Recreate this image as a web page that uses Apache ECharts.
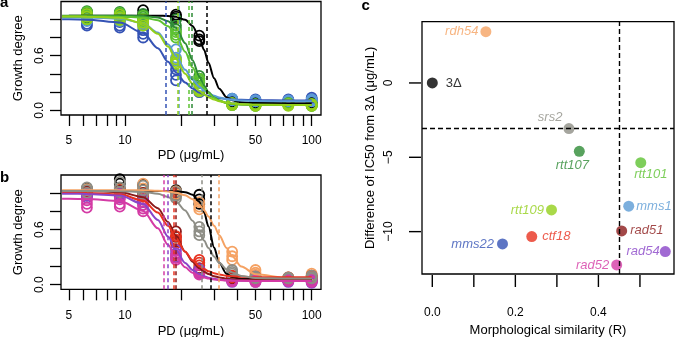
<!DOCTYPE html>
<html>
<head>
<meta charset="utf-8">
<script src="https://cdn.jsdelivr.net/npm/echarts@6/dist/echarts.min.js"></script>
<style>
html, body { margin: 0; padding: 0; background: #fff; }
#wrap { position: relative; width: 675px; height: 337px; }
#chartAB { position: absolute; left: 0; top: 0; width: 340px; height: 337px; }
#chartC { position: absolute; left: 340px; top: 0; width: 335px; height: 337px; }
</style>
</head>
<body>
<div id="wrap"><div id="chartAB"></div><div id="chartC"></div></div>
<script>
// PD doses in the plate (ug/mL)
const doses = [6.25, 9.375, 12.5, 18.75, 25, 37.5, 50, 75, 100];
const curveDose = [4.6, 5, 6.25, 9.375, 12.5, 15, 17, 18.75, 21, 23, 25, 26.5, 28, 30, 32, 35, 37.5, 42, 50, 75, 100];

// ---- panel a ----
const curveA_3d    = [null, 1.04, 1.04, 1.04, 1.04, 1.04, 1.035, 1.027, 0.994, 0.927, 0.798, 0.665, 0.522, 0.354, 0.238, 0.146, 0.112, 0.09, 0.081, 0.08, 0.08];
const curveA_mms22 = [1.0, 0.999, 0.996, 0.964, 0.85, 0.683, 0.533, 0.418, 0.307, 0.241, 0.197, 0.175, 0.159, 0.144, 0.134, 0.125, 0.121, 0.116, 0.113, 0.11, 0.11];
const curveA_mms1  = [1.02, 1.02, 1.019, 1.008, 0.957, 0.854, 0.727, 0.60, 0.445, 0.338, 0.261, 0.22, 0.189, 0.161, 0.142, 0.125, 0.117, 0.109, 0.103, 0.10, 0.10];
const curveA_rtt109 = [1.03, 1.03, 1.029, 1.016, 0.957, 0.841, 0.701, 0.564, 0.403, 0.294, 0.216, 0.176, 0.146, 0.119, 0.101, 0.084, 0.076, 0.068, 0.063, 0.06, 0.06];
const curveA_rtt101 = [1.03, 1.03, 1.03, 1.029, 1.02, 0.988, 0.924, 0.826, 0.643, 0.47, 0.324, 0.244, 0.188, 0.138, 0.108, 0.084, 0.074, 0.066, 0.062, 0.06, 0.06];
const curveA_rtt107 = [1.04, 1.04, 1.04, 1.04, 1.036, 1.019, 0.979, 0.906, 0.738, 0.55, 0.373, 0.273, 0.202, 0.142, 0.107, 0.082, 0.072, 0.065, 0.061, 0.06, 0.06];

const repA_3d = [[1.08, 1.05, 1.06], [1.07, 1.04, 1.06], [1.10, 1.05, 1.04], [1.05, 1.03, 1.01], [0.82, 0.78, 0.76], [0.11, 0.10, 0.09], [0.08, 0.07, 0.08], [0.08, 0.07, 0.09], [0.08, 0.07, 0.09]];
const repA_mms22 = [[0.99, 0.95, 0.93], [0.97, 0.93, 0.91], [0.88, 0.84, 0.80], [0.45, 0.39, 0.33], [0.24, 0.22, 0.20], [0.13, 0.12, 0.11], [0.12, 0.11, 0.10], [0.11, 0.12, 0.10], [0.14, 0.12, 0.12]];
const repA_mms1 = [[1.04, 1.01, 0.98], [1.03, 1.00, 0.98], [0.98, 0.95, 0.93], [0.67, 0.58, 0.55], [0.26, 0.24, 0.22], [0.13, 0.12, 0.11], [0.11, 0.10, 0.11], [0.10, 0.11, 0.10], [0.12, 0.10, 0.11]];
const repA_rtt109 = [[1.06, 1.03, 1.00], [1.05, 1.02, 0.99], [0.99, 0.96, 0.93], [0.56, 0.53, 0.51], [0.23, 0.21, 0.22], [0.07, 0.06, 0.08], [0.06, 0.05, 0.06], [0.07, 0.06, 0.05], [0.05, 0.06, 0.07]];
const repA_rtt101 = [[1.08, 1.04, 1.00], [1.07, 1.03, 1.00], [1.04, 1.01, 0.98], [0.86, 0.83, 0.80], [0.35, 0.33, 0.30], [0.08, 0.07, 0.06], [0.07, 0.06, 0.05], [0.08, 0.07, 0.06], [0.07, 0.05, 0.06]];
const repA_rtt107 = [[1.09, 1.05, 1.02], [1.08, 1.05, 1.02], [1.06, 1.03, 1.00], [1.00, 0.93, 0.89], [0.38, 0.35, 0.31], [0.08, 0.07, 0.06], [0.07, 0.06, 0.05], [0.08, 0.06, 0.07], [0.07, 0.06, 0.05]];

const ic50A = { '3d': 27.6, mms22: 16.7, mms1: 19.3, rtt109: 19.0, rtt101: 22.1, rtt107: 23.0 };

// ---- panel b ----
const curveB_3d    = [null, 1.02, 1.02, 1.02, 1.02, 1.02, 1.02, 1.018, 1.008, 0.98, 0.903, 0.791, 0.633, 0.406, 0.238, 0.119, 0.083, 0.065, 0.06, 0.06, 0.06];
const curveB_srs2  = [1.02, 1.02, 1.02, 1.019, 1.011, 0.99, 0.956, 0.906, 0.808, 0.696, 0.571, 0.481, 0.399, 0.308, 0.238, 0.169, 0.133, 0.096, 0.074, 0.068, 0.068];
const curveB_rdh54 = [1.03, 1.03, 1.03, 1.03, 1.028, 1.024, 1.016, 1.003, 0.974, 0.932, 0.87, 0.811, 0.743, 0.642, 0.539, 0.401, 0.309, 0.198, 0.114, 0.073, 0.07];
const curveB_rad51 = [1.02, 1.02, 1.02, 1.009, 0.954, 0.834, 0.682, 0.532, 0.36, 0.251, 0.178, 0.142, 0.116, 0.093, 0.079, 0.066, 0.06, 0.055, 0.052, 0.05, 0.05];
const curveB_ctf18 = [1.0, 1.0, 0.999, 0.984, 0.916, 0.786, 0.641, 0.507, 0.36, 0.267, 0.203, 0.17, 0.147, 0.125, 0.111, 0.098, 0.092, 0.086, 0.082, 0.08, 0.08];
const curveB_rad54 = [0.99, 0.99, 0.989, 0.971, 0.88, 0.706, 0.524, 0.377, 0.237, 0.161, 0.114, 0.092, 0.077, 0.064, 0.056, 0.049, 0.046, 0.043, 0.041, 0.04, 0.04];
const curveB_rad52 = [0.935, 0.935, 0.933, 0.912, 0.804, 0.614, 0.435, 0.304, 0.189, 0.13, 0.094, 0.078, 0.067, 0.057, 0.051, 0.046, 0.044, 0.042, 0.04, 0.04, 0.04];

const repB_3d = [[1.05, 1.03, 1.01], [1.15, 1.10, 1.05], [1.09, 1.04, 0.99], [1.03, 1.00, 0.98], [0.98, 0.93, 0.88], [0.09, 0.08, 0.07], [0.07, 0.06, 0.07], [0.07, 0.06, 0.06], [0.08, 0.07, 0.06]];
const repB_srs2 = [[1.06, 1.03, 1.00], [1.12, 1.06, 1.01], [1.08, 1.03, 0.99], [1.01, 0.97, 0.94], [0.63, 0.58, 0.54], [0.16, 0.14, 0.12], [0.09, 0.08, 0.07], [0.08, 0.07, 0.07], [0.10, 0.08, 0.07]];
const repB_rdh54 = [[1.04, 1.01, 0.99], [1.04, 1.02, 1.00], [1.10, 1.05, 1.00], [1.02, 0.99, 0.97], [0.90, 0.85, 0.82], [0.36, 0.31, 0.27], [0.16, 0.13, 0.11], [0.08, 0.07, 0.06], [0.12, 0.10, 0.08]];
const repB_rad51 = [[1.02, 1.00, 0.98], [1.03, 1.00, 0.98], [1.00, 0.96, 0.93], [0.58, 0.52, 0.47], [0.18, 0.16, 0.14], [0.07, 0.06, 0.05], [0.06, 0.05, 0.05], [0.05, 0.06, 0.04], [0.06, 0.05, 0.04]];
const repB_ctf18 = [[1.00, 0.98, 0.97], [1.01, 0.99, 0.97], [0.96, 0.93, 0.90], [0.53, 0.49, 0.45], [0.27, 0.24, 0.21], [0.10, 0.09, 0.08], [0.09, 0.08, 0.07], [0.08, 0.07, 0.06], [0.10, 0.08, 0.07]];
const repB_rad54 = [[0.99, 0.97, 0.95], [0.99, 0.97, 0.95], [0.93, 0.90, 0.87], [0.38, 0.34, 0.30], [0.17, 0.15, 0.13], [0.05, 0.04, 0.03], [0.05, 0.04, 0.03], [0.04, 0.04, 0.03], [0.05, 0.03, 0.02]];
const repB_rad52 = [[0.92, 0.88, 0.84], [0.93, 0.88, 0.85], [0.87, 0.83, 0.80], [0.32, 0.29, 0.27], [0.14, 0.12, 0.11], [0.05, 0.04, 0.04], [0.05, 0.04, 0.03], [0.06, 0.05, 0.04], [0.06, 0.04, 0.03]];

const ic50B = { '3d': 28.8, srs2: 25.5, rdh54: 31.8, rad51: 18.7, ctf18: 18.3, rad54: 17.1, rad52: 16.4 };

// ---- panel c ----
const strainNames = ['3Δ', 'rdh54', 'srs2', 'rtt107', 'rtt101', 'mms1', 'rtt109', 'rad51', 'ctf18', 'mms22', 'rad54', 'rad52'];
const similarity  = [0.0, 0.129, 0.329, 0.354, 0.502, 0.473, 0.287, 0.456, 0.2395, 0.169, 0.561, 0.444];
const ic50Diff    = [0, 3.45, -3.07, -4.6, -5.36, -8.29, -8.54, -9.95, -10.33, -10.83, -11.34, -12.24];
const diffCutoff = -3.07;
const simCutoff = 0.452;

// tick values
const doseTicks = [5, 6, 7, 8, 9, 10, 20, 30, 40, 50, 60, 70, 80, 90, 100];
const doseLabels = [5, 10, 50, 100];
const growthTicks = [0, 0.2, 0.4, 0.6, 0.8, 1.0];
const growthLabels = [0, 0.6];
const simTicks = [0, 0.1, 0.2, 0.3, 0.4, 0.5];
const simLabels = [0, 0.2, 0.4];
const diffTicks = [-10, -5, 0];
const diffLabels = [-10, -5, 0];

const colors = {
    '3d': '#000000', mms22: '#3553B5', mms1: '#5B9BD5', rtt109: '#93CF1B', rtt101: '#5EC232', rtt107: '#2E8B36',
    srs2: '#8E8E86', rdh54: '#F5A263', rad51: '#8B1A1A', ctf18: '#E8321F', rad54: '#8A45C8', rad52: '#D43BA5'
};

const FONT = 'Liberation Sans, Arial, Helvetica, sans-serif';
const lg = v => Math.log10(v);

const chartAB = echarts.init(document.getElementById('chartAB'));
const chartC = echarts.init(document.getElementById('chartC'));

const strainSeries = (gridIdx, key, curve, reps, ic50) => {
    const col = colors[key];
    const line = {
        type: 'line',
        xAxisIndex: gridIdx, yAxisIndex: gridIdx,
        data: curveDose.map((d, i) => [lg(d), curve[i]]),
        showSymbol: false,
        smooth: 0.3,
        smoothMonotone: 'x',
        connectNulls: false,
        lineStyle: { color: col, width: 2 },
        silent: true,
        markLine: {
            silent: true,
            symbol: 'none',
            label: { show: false },
            lineStyle: { color: col, type: [4, 3], width: 1.5, opacity: 1 },
            data: [{ xAxis: lg(ic50) }]
        }
    };
    const pts = [];
    reps.forEach((r, i) => r.forEach(v => pts.push([lg(doses[i]), v])));
    const scatter = {
        type: 'scatter',
        xAxisIndex: gridIdx, yAxisIndex: gridIdx,
        data: pts,
        symbol: 'circle',
        symbolSize: 10,
        itemStyle: { color: 'rgba(0,0,0,0)', borderColor: col, borderWidth: 1.8, opacity: 1 },
        silent: true
    };
    return [line, scatter];
};

const doseAxis = (gridIdx, gap) => ({
    type: 'value', gridIndex: gridIdx,
    min: 0.657, max: 2.05,
    name: 'PD (μg/mL)', nameLocation: 'middle', nameGap: gap,
    nameTextStyle: { color: '#000', fontSize: 13, fontFamily: FONT },
    axisLine: { show: false, onZero: false },
    splitLine: { show: false },
    axisTick: { show: true, inside: false, length: 11, customValues: doseTicks.map(lg), lineStyle: { color: '#000', width: 1.3 } },
    axisLabel: { customValues: doseLabels.map(lg), margin: 20, color: '#000', fontSize: 12, fontFamily: FONT,
        formatter: v => String(Math.round(Math.pow(10, v))) }
});

const growthAxis = (gridIdx) => ({
    type: 'value', gridIndex: gridIdx,
    min: -0.05, max: 1.195,
    name: 'Growth degree', nameLocation: 'middle', nameGap: 36,
    nameTextStyle: { color: '#000', fontSize: 13, fontFamily: FONT },
    axisLine: { show: false, onZero: false },
    splitLine: { show: false },
    axisTick: { show: true, inside: false, length: 11, customValues: growthTicks, lineStyle: { color: '#000', width: 1.3 } },
    axisLabel: { customValues: growthLabels, rotate: 90, margin: 15, color: '#000', fontSize: 12, fontFamily: FONT,
        formatter: v => v.toFixed(1) }
});

const boxGrid = (left, top, width, height) => ({
    left, top, width, height, show: true, borderColor: '#000', borderWidth: 1.3, backgroundColor: 'transparent',
    containLabel: false, outerBoundsMode: 'none'
});

// panels a and b
chartAB.setOption({
    animation: false,
    backgroundColor: '#fff',
    textStyle: { fontFamily: FONT },
    grid: [
        boxGrid(61, 1.5, 260, 113.5),
        boxGrid(61, 175, 260, 114.3)
    ],
    xAxis: [doseAxis(0, 34), doseAxis(1, 36)],
    yAxis: [growthAxis(0), growthAxis(1)],
    graphic: [
        { type: 'text', x: 0, y: 3, style: { text: 'a', font: 'bold 15px ' + FONT, fill: '#000', verticalAlign: 'middle' } },
        { type: 'text', x: 0, y: 178, style: { text: 'b', font: 'bold 15px ' + FONT, fill: '#000', verticalAlign: 'middle' } }
    ],
    series: [].concat(
        strainSeries(0, '3d', curveA_3d, repA_3d, ic50A['3d']),
        strainSeries(0, 'mms22', curveA_mms22, repA_mms22, ic50A.mms22),
        strainSeries(0, 'mms1', curveA_mms1, repA_mms1, ic50A.mms1),
        strainSeries(0, 'rtt107', curveA_rtt107, repA_rtt107, ic50A.rtt107),
        strainSeries(0, 'rtt101', curveA_rtt101, repA_rtt101, ic50A.rtt101),
        strainSeries(0, 'rtt109', curveA_rtt109, repA_rtt109, ic50A.rtt109),
        strainSeries(1, '3d', curveB_3d, repB_3d, ic50B['3d']),
        strainSeries(1, 'rdh54', curveB_rdh54, repB_rdh54, ic50B.rdh54),
        strainSeries(1, 'rad51', curveB_rad51, repB_rad51, ic50B.rad51),
        strainSeries(1, 'ctf18', curveB_ctf18, repB_ctf18, ic50B.ctf18),
        strainSeries(1, 'rad54', curveB_rad54, repB_rad54, ic50B.rad54),
        strainSeries(1, 'rad52', curveB_rad52, repB_rad52, ic50B.rad52),
        strainSeries(1, 'srs2', curveB_srs2, repB_srs2, ic50B.srs2)
    )
});

// panel c
const labelPos = {
    '3Δ': { position: 'right', distance: 8 },
    rdh54: { position: 'left', distance: 2 },
    srs2: { position: 'left', distance: 1, offset: [0, -11] },
    rtt107: { position: 'bottom', distance: 2, offset: [-7, 0] },
    rtt101: { position: 'bottom', distance: 0, offset: [10, 0] },
    mms1: { position: 'right', distance: 2 },
    rtt109: { position: 'left', distance: 2 },
    rad51: { position: 'right', distance: 3 },
    ctf18: { position: 'right', distance: 5 },
    mms22: { position: 'left', distance: 3 },
    rad54: { position: 'left', distance: 0 },
    rad52: { position: 'left', distance: 2 }
};

const cPoints = strainNames.map((n, i) => {
    const key = n === '3Δ' ? '3d' : n;
    const col = colors[key];
    return {
        name: n,
        value: [similarity[i], ic50Diff[i]],
        itemStyle: { color: col },
        label: Object.assign({
            show: true, formatter: n, color: col, fontSize: 13, fontFamily: FONT,
            fontStyle: n === '3Δ' ? 'normal' : 'italic'
        }, labelPos[n])
    };
});

const simMin = -0.0248, simMax = 0.582;
const diffMin = -12.85, diffMax = 4.12;
const minusFmt = v => String(v).replace('-', '\u2212');
const cLetter = { type: 'text', x: 21.5, y: 5.5, z: 100, style: { text: 'c', font: 'bold 15px ' + FONT, fill: '#000', verticalAlign: 'middle' } };

chartC.setOption({
    animation: false,
    backgroundColor: '#fff',
    grid: [boxGrid(82, 21.7, 252, 252.3)],
    xAxis: [{
        type: 'value', gridIndex: 0,
        min: simMin, max: simMax,
        name: 'Morphological similarity (R)', nameLocation: 'middle', nameGap: 49,
        nameTextStyle: { color: '#000', fontSize: 13, fontFamily: FONT },
        axisLine: { show: false, onZero: false },
        splitLine: { show: false },
        axisTick: { show: false },
        axisLabel: { customValues: simLabels, margin: 33, color: '#000', fontSize: 12, fontFamily: FONT,
            formatter: v => v.toFixed(1) }
    }],
    yAxis: [{
        type: 'value', gridIndex: 0,
        min: diffMin, max: diffMax,
        name: 'Difference of IC50 from 3Δ (μg/mL)', nameLocation: 'middle', nameGap: 45,
        nameTextStyle: { color: '#000', fontSize: 13, fontFamily: FONT },
        axisLine: { show: false, onZero: false },
        splitLine: { show: false },
        axisTick: { show: false },
        axisLabel: { show: false }
    }],
    graphic: [cLetter],
    series: [{
        type: 'scatter',
        xAxisIndex: 0, yAxisIndex: 0,
        symbolSize: 11,
        data: cPoints,
        silent: true,
        markLine: {
            silent: true,
            symbol: 'none',
            label: { show: false },
            lineStyle: { color: '#000', type: [5, 3], width: 1.4, opacity: 1 },
            data: [{ yAxis: diffCutoff }, { xAxis: simCutoff }]
        }
    }]
});

// ticks and y labels of panel c, placed through the chart's own scales, on a top layer
const cEls = [cLetter];
simTicks.forEach(v => {
    const p = chartC.convertToPixel({ gridIndex: 0 }, [v, diffMin]);
    cEls.push({ type: 'line', silent: true, z: 100, zlevel: 1,
        shape: { x1: p[0], y1: p[1] + 1, x2: p[0], y2: p[1] + 13 },
        style: { stroke: '#000', lineWidth: 1.4 } });
});
diffTicks.forEach(v => {
    const p = chartC.convertToPixel({ gridIndex: 0 }, [simMin, v]);
    cEls.push({ type: 'line', silent: true, z: 100, zlevel: 1,
        shape: { x1: p[0] - 13, y1: p[1], x2: p[0] - 1, y2: p[1] },
        style: { stroke: '#000', lineWidth: 1.4 } });
});
diffLabels.forEach(v => {
    const p = chartC.convertToPixel({ gridIndex: 0 }, [simMin, v]);
    cEls.push({ type: 'text', silent: true, z: 100, zlevel: 1, x: p[0] - 33, y: p[1], rotation: Math.PI / 2,
        style: { text: minusFmt(v), font: '12px ' + FONT, fill: '#000', align: 'center', verticalAlign: 'middle' } });
});
chartC.setOption({ graphic: cEls });
</script>
</body>
</html>
